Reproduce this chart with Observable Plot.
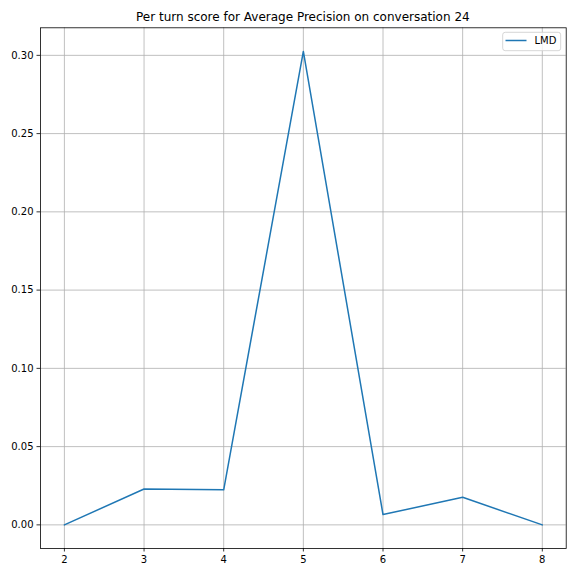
<!DOCTYPE html>
<html>
<head>
<meta charset="utf-8">
<script src="https://cdn.jsdelivr.net/npm/d3@7"></script>
<script src="https://cdn.jsdelivr.net/npm/@observablehq/plot@0.6"></script>
<style>
  html, body { margin: 0; padding: 0; background: #ffffff; }
  svg { display: block; }
</style>
</head>
<body>
<div id="chart"></div>
<script>
const turns = [2, 3, 4, 5, 6, 7, 8];
const lmdScores = [0.0, 0.0229, 0.0224, 0.3025, 0.0066, 0.0176, 0.0];
const xTicks = [2, 3, 4, 5, 6, 7, 8];
const yTicks = [0.00, 0.05, 0.10, 0.15, 0.20, 0.25, 0.30];
const seriesName = "LMD";
const titleText = "Per turn score for Average Precision on conversation 24";

const data = turns.map((t, i) => ({turn: t, score: lmdScores[i]}));

const W = 576, H = 576;
const mL = 40, mR = 10.3, mT = 27.3, mB = 28;

const chart = Plot.plot({
  width: W,
  height: H,
  marginLeft: mL,
  marginRight: mR,
  marginTop: mT,
  marginBottom: mB,
  style: {fontFamily: "DejaVu Sans, sans-serif", fontSize: "10px", background: "#ffffff", color: "#000000"},
  x: {domain: [1.7, 8.3], ticks: xTicks, label: null},
  y: {domain: [-0.0151, 0.3176], ticks: yTicks, label: null, tickFormat: d3.format(".2f")},
  marks: [
    Plot.gridX(xTicks, {stroke: "#b0b0b0", strokeOpacity: 1, strokeWidth: 0.8}),
    Plot.gridY(yTicks, {stroke: "#b0b0b0", strokeOpacity: 1, strokeWidth: 0.8}),
    Plot.line(data, {x: "turn", y: "score", stroke: "#1f77b4", strokeWidth: 1.5}),
    Plot.frame({stroke: "#000000", strokeWidth: 0.8}),
    Plot.axisX(xTicks, {tickSize: 3.5, tickPadding: 3.5, fontSize: 10, strokeWidth: 0.8, label: null}),
    Plot.axisY(yTicks, {tickSize: 3.5, tickPadding: 3.5, fontSize: 10, strokeWidth: 0.8, label: null, tickFormat: d3.format(".2f")})
  ]
});

const svg = d3.select(chart);
// title
svg.append("text")
  .attr("x", (mL + (W - mR)) / 2)
  .attr("y", mT - 6)
  .attr("text-anchor", "middle")
  .attr("font-family", "DejaVu Sans, sans-serif")
  .attr("font-size", 12)
  .attr("fill", "#000000")
  .text(titleText);

// legend
const lg = svg.append("g").attr("text-anchor", "start");
lg.append("rect")
  .attr("x", 502.7).attr("y", 32.3)
  .attr("width", 58).attr("height", 18.4)
  .attr("rx", 2.5).attr("ry", 2.5)
  .attr("fill", "#ffffff").attr("fill-opacity", 0.8)
  .attr("stroke", "#cccccc").attr("stroke-width", 0.8);
lg.append("line")
  .attr("x1", 505.5).attr("x2", 526.5)
  .attr("y1", 40.5).attr("y2", 40.5)
  .attr("stroke", "#1f77b4").attr("stroke-width", 1.5);
lg.append("text")
  .attr("x", 534.5).attr("y", 44.3)
  .attr("text-anchor", "start")
  .attr("font-family", "DejaVu Sans, sans-serif")
  .attr("font-size", 10)
  .attr("fill", "#000000")
  .text(seriesName);

document.getElementById("chart").appendChild(chart);
</script>
</body>
</html>
